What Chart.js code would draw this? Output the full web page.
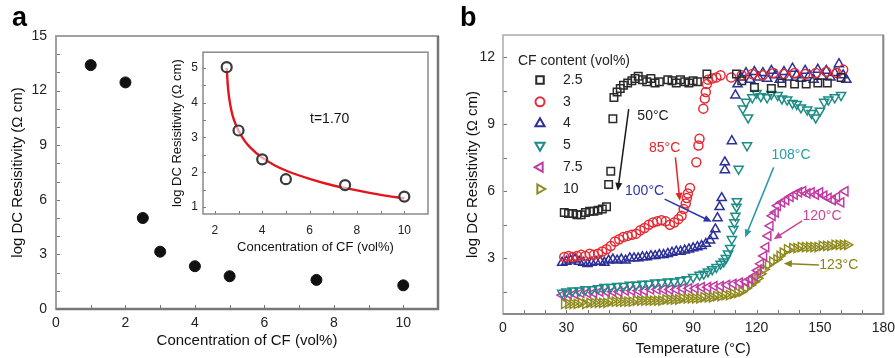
<!DOCTYPE html>
<html>
<head>
<meta charset="utf-8">
<script src="https://cdn.jsdelivr.net/npm/chart.js@4.4.1/dist/chart.umd.min.js"></script>
<style>
html, body { margin: 0; padding: 0; background: #fff; }
#wrap { position: relative; width: 895px; height: 358px; overflow: hidden; font-family: "Liberation Sans", Arial, sans-serif; }
canvas { position: absolute; }
#cA { left: 0; top: 0; }
#cIn { left: 160px; top: 40px; }
#cB { left: 455px; top: 0; }
.lab { position: absolute; font-weight: bold; font-size: 27px; line-height: 1; color: #000; }
</style>
</head>
<body>
<div id="wrap">
  <canvas id="cA" width="450" height="358"></canvas>
  <canvas id="cIn" width="280" height="225"></canvas>
  <canvas id="cB" width="446" height="358"></canvas>
  <div class="lab" style="left:12px;top:4px">a</div>
  <div class="lab" style="left:460px;top:4px">b</div>
</div>
<script>
// panel a : resistivity vs CF content
const concA = [1, 2, 2.5, 3, 4, 5, 7.5, 10];
const logRhoA = [13.4, 12.45, 5.0, 3.15, 2.35, 1.8, 1.6, 1.3];

// inset : measured points and percolation fit (t = 1.70)
const concIn = [2.5, 3, 4, 5, 7.5, 10];
const logRhoIn = [5.02, 3.2, 2.37, 1.8, 1.63, 1.3];
const fitX = [2.5, 2.55, 2.6, 2.7, 2.8, 3, 3.25, 3.5, 4, 4.5, 5, 6, 7, 8, 9, 10];
const fitY = [5.0, 4.47, 4.16, 3.77, 3.52, 3.19, 2.91, 2.71, 2.42, 2.21, 2.05, 1.81, 1.62, 1.48, 1.35, 1.25];
const insetXTicks = [2, 3, 4, 5, 6, 7, 8, 9, 10];
const insetYTicks = [1, 1.5, 2, 2.5, 3, 3.5, 4, 4.5, 5];

// panel b : resistivity vs temperature, one pair of arrays per CF content
const temp25 = [29,31,33,35,37,39,41,43,45,47,49,50,51,52,52.5,54,55.5,57,59,61,62.5,64,66,68,70,72,74,78,80,82,84,86,88,90,92,96.5,110.5,113,119,127,132,138,143.5,149,153.5,160];
const rho25 = [5.05,5.0,5.0,4.95,4.95,5.05,5.1,5.1,5.15,5.2,5.3,6.3,6.9,9.25,10.2,10.45,10.6,10.75,10.85,10.95,11.05,11.15,11.0,10.9,11.05,10.85,10.9,11.0,10.95,10.85,11.0,10.9,10.85,10.95,10.9,11.25,11.25,10.95,10.65,10.6,10.85,10.8,10.8,10.85,10.85,11.1];

const temp3 = [29,31,33,35,37,39,41,43,45,47,49,51,53,55,57,59,61,63,65,67,69,71,73,75,77,79,81,83,84.5,85.5,86.5,87,87.5,88.5,91.5,92.5,93,94.8,95.5,96,96.5,97,99,101,103,108,113,118,123,128,133,138,143,148,153,158,161];
const rho3 = [3.05,3.1,3.05,3.1,3.15,3.1,3.2,3.15,3.2,3.3,3.4,3.55,3.75,3.85,3.95,4.0,4.05,4.1,4.25,4.35,4.5,4.6,4.65,4.7,4.65,4.5,4.6,4.75,4.9,5.2,5.45,5.7,5.9,6.15,7.3,8.05,8.35,9.7,10.15,10.45,10.8,11.0,11.05,11.1,11.2,11.1,11.2,11.25,11.2,11.3,11.25,11.3,11.25,11.3,11.35,11.3,11.45];

const temp4 = [28,30,32,34,36,38,40,42,44,46,48,50,52,54,56,58,60,62,64,66,68,70,72,74,76,78,80,82,84,86,88,90,92,94,96,98,99.5,100.5,101.5,102.5,103.5,105,105,108.3,110,111,112.5,115,117,119,121,123,125,127,129,131,133,135,137,139,141,143,145,147,149,151,153,155,157,159,161,162.5];
const rho4 = [2.8,2.85,2.9,2.95,2.85,2.8,2.75,2.8,2.85,2.85,2.8,2.9,2.95,2.9,2.95,2.9,3.0,3.0,3.0,3.05,3.05,3.1,3.1,3.15,3.15,3.2,3.25,3.3,3.3,3.35,3.4,3.45,3.5,3.55,3.65,3.8,4.0,4.3,4.8,5.3,5.7,6.95,7.3,8.25,10.3,10.8,11.1,11.3,11.0,11.35,11.1,11.3,11.05,11.4,11.2,11.0,11.35,11.1,11.5,11.2,11.05,11.4,11.2,11.0,11.45,11.15,11.4,11.1,11.3,11.7,11.2,11.0];

const temp5 = [28,30,33,36,39,42,45,48,51,54,57,60,63,66,69,72,75,78,81,84,87,90,93,95,97,99,101,103,104.5,105.5,106.5,107.5,108.3,109,109.5,110,110.5,110.7,111.5,115.5,113.5,115,116,118,120,122,125,127,130,132,134.5,137,139,141,144,146,148,150,152,154,157,160];
const rho5 = [1.45,1.5,1.55,1.55,1.6,1.6,1.65,1.7,1.7,1.75,1.75,1.8,1.8,1.85,1.85,1.9,1.9,1.95,1.95,2.0,2.05,2.15,2.25,2.3,2.4,2.5,2.6,2.75,2.85,3.0,3.2,3.45,3.85,4.3,4.6,4.9,5.3,5.55,7.0,8.05,9.7,10.0,9.3,10.2,10.4,10.25,10.2,10.35,10.3,10.15,10.1,9.95,9.9,9.75,9.65,9.5,9.3,9.6,10.0,10.1,10.2,10.3];

const temp75 = [28,31,34,37,40,43,46,49,52,55,58,61,64,67,70,73,76,79,82,85,88,91,94,97,100,103,106,109,112,115,117,119,120.5,122,123.5,124.5,125.5,126.5,127.5,129,130,132,134,136,138,140,142,144,146,148,150,152,154,156,158,160,162];
const rho75 = [1.35,1.4,1.4,1.45,1.45,1.45,1.5,1.5,1.5,1.5,1.55,1.55,1.55,1.55,1.6,1.6,1.6,1.6,1.6,1.65,1.65,1.65,1.7,1.7,1.75,1.75,1.8,1.85,1.9,1.95,2.05,2.2,2.45,2.75,3.1,3.5,4.0,4.45,4.9,5.05,5.35,5.5,5.6,5.75,5.85,5.95,6.0,5.9,5.95,5.85,5.95,5.8,5.7,5.6,5.75,5.5,6.0];

const temp10 = [29,31,33,35,37,39,41,43,45,47,49,51,53,55,57,59,61,63,65,67,69,71,73,75,77,79,81,83,85,87,89,91,93,95,97,99,101,103,105,107,109,111,113,115,117,119,120.5,122,123.5,125.5,127.5,129.5,131,132.5,134.5,137,139,141,143,145,147,149,151,153,155,157,159,161,163];
const rho10 = [0.95,0.95,0.95,0.95,1.0,0.95,1.0,1.0,1.0,1.0,1.0,1.05,1.05,1.05,1.05,1.05,1.05,1.1,1.1,1.1,1.1,1.1,1.1,1.1,1.15,1.15,1.15,1.15,1.2,1.2,1.2,1.2,1.2,1.25,1.25,1.25,1.3,1.3,1.35,1.35,1.4,1.45,1.5,1.65,1.8,1.95,2.1,2.3,2.5,2.7,2.85,2.95,3.1,3.25,3.4,3.45,3.45,3.5,3.5,3.5,3.5,3.5,3.55,3.55,3.55,3.6,3.6,3.6,3.6];

const FONT = '"Liberation Sans", Arial, sans-serif';
Chart.defaults.font.family = FONT;
Chart.defaults.color = '#222';

const pts = (xs, ys) => xs.map((x, i) => ({ x: x, y: ys[i] }));

// box round the plot area, with small inward tick marks on x and y
const framePlugin = {
  id: 'frame',
  afterDatasetsDraw(chart, args, o) {
    const a = chart.chartArea, c = chart.ctx;
    c.save();
    c.strokeStyle = o.tickColor || '#666';
    c.lineWidth = 1;
    const L = o.tick || 4;
    chart.scales.x.ticks.forEach(t => {
      const p = Math.round(chart.scales.x.getPixelForValue(t.value)) + 0.5;
      if (p <= a.left + 2 || p >= a.right - 2) return;
      c.beginPath(); c.moveTo(p, a.bottom); c.lineTo(p, a.bottom - L); c.stroke();
    });
    chart.scales.y.ticks.forEach(t => {
      const p = Math.round(chart.scales.y.getPixelForValue(t.value)) + 0.5;
      if (p <= a.top + 2 || p >= a.bottom - 2) return;
      c.beginPath(); c.moveTo(a.left, p); c.lineTo(a.left + L, p); c.stroke();
    });
    c.strokeStyle = o.color;
    c.lineWidth = o.width;
    c.strokeRect(a.left, a.top, a.right - a.left, a.bottom - a.top);
    if (o.edge) {
      c.strokeStyle = o.edge;
      c.lineWidth = o.edgeWidth;
      c.beginPath();
      c.moveTo(a.right, a.top);
      c.lineTo(a.right, a.bottom);
      c.lineTo(a.left, a.bottom);
      c.stroke();
    }
    c.restore();
  }
};

// text labels and arrows placed in data units
const notePlugin = {
  id: 'notes',
  afterDatasetsDraw(chart, args, o) {
    const c = chart.ctx, sx = chart.scales.x, sy = chart.scales.y;
    (o.items || []).forEach(n => {
      c.save();
      c.fillStyle = n.color;
      c.strokeStyle = n.color;
      c.font = (n.size || 14) + 'px ' + FONT;
      c.textAlign = 'center';
      c.textBaseline = 'middle';
      c.fillText(n.text, sx.getPixelForValue(n.at[0]), sy.getPixelForValue(n.at[1]));
      if (n.from) {
        const x1 = sx.getPixelForValue(n.from[0]), y1 = sy.getPixelForValue(n.from[1]);
        const x2 = sx.getPixelForValue(n.to[0]), y2 = sy.getPixelForValue(n.to[1]);
        const ang = Math.atan2(y2 - y1, x2 - x1);
        c.lineWidth = 1.5;
        c.beginPath();
        c.moveTo(x1, y1);
        c.lineTo(x2 - 6 * Math.cos(ang), y2 - 6 * Math.sin(ang));
        c.stroke();
        c.beginPath();
        c.moveTo(x2, y2);
        c.lineTo(x2 - 8 * Math.cos(ang) + 3.5 * Math.sin(ang), y2 - 8 * Math.sin(ang) - 3.5 * Math.cos(ang));
        c.lineTo(x2 - 8 * Math.cos(ang) - 3.5 * Math.sin(ang), y2 - 8 * Math.sin(ang) + 3.5 * Math.cos(ang));
        c.closePath();
        c.fill();
      }
      c.restore();
    });
  }
};

// legend inside the plot, top left
const cfLegend = {
  id: 'cfLegend',
  afterDraw(chart, args, o) {
    const c = chart.ctx, a = chart.chartArea;
    c.save();
    c.font = '14px ' + FONT;
    c.textBaseline = 'middle';
    c.textAlign = 'left';
    c.fillStyle = '#222';
    c.fillText(o.title, a.left + o.titleX, a.top + o.titleY);
    chart.data.datasets.forEach((ds, i) => {
      const y = a.top + o.rowY + i * o.rowGap;
      c.strokeStyle = ds.borderColor;
      c.fillStyle = 'rgba(0,0,0,0)';
      c.lineWidth = 2;
      Chart.helpers.drawPoint(c, { pointStyle: ds.pointStyle, rotation: ds.pointRotation || 0, radius: ds.pointRadius, borderWidth: 2 }, a.left + o.markX, y);
      c.fillStyle = '#222';
      c.fillText(ds.label, a.left + o.textX, y);
    });
    c.restore();
  }
};

function axis(o) {
  return {
    type: 'linear',
    min: o.min,
    max: o.max,
    afterFit: s => { s[o.dim] = o.size; },
    afterBuildTicks: o.ticks ? (s => { s.ticks = o.ticks.map(v => ({ value: v })); }) : undefined,
    ticks: { stepSize: o.step, autoSkip: false, maxRotation: 0, padding: o.pad, color: '#222', font: { size: o.fs }, callback: o.label },
    grid: { display: false, drawTicks: false },
    border: { display: false },
    title: { display: true, text: o.title, color: '#111', font: { size: o.ts }, padding: o.tp }
  };
}

const every = k => v => (Math.abs(v / k - Math.round(v / k)) < 1e-6 ? Math.round(v * 100) / 100 : '');

// ---- panel a
new Chart(document.getElementById('cA'), {
  type: 'scatter',
  data: {
    datasets: [{
      data: pts(concA, logRhoA),
      pointRadius: 5.5,
      pointStyle: 'circle',
      backgroundColor: '#111',
      borderColor: '#111'
    }]
  },
  options: {
    responsive: false,
    animation: false,
    devicePixelRatio: 1,
    layout: { padding: { top: 36, right: 12, left: 0, bottom: 0 } },
    plugins: { legend: { display: false }, tooltip: { enabled: false },
      frame: { color: '#a0a0a0', width: 2, edge: '#777', edgeWidth: 2.5, tick: 4, tickColor: '#777' } },
    scales: {
      x: axis({ dim: 'height', size: 49, min: 0, max: 11, step: 1, pad: 6, fs: 14,
        label: v => (v % 2 === 0 && v <= 10 ? v : ''), title: 'Concentration of CF (vol%)', ts: 15, tp: { bottom: 8 } }),
      y: axis({ dim: 'width', size: 56, min: 0, max: 15, step: 1, pad: 9, fs: 14,
        label: v => (v % 3 === 0 ? v : ''), title: 'log DC Resisitivity (\u03a9 cm)', ts: 15, tp: { top: 9 } })
    }
  },
  plugins: [framePlugin]
});

// ---- inset of panel a
new Chart(document.getElementById('cIn'), {
  type: 'scatter',
  data: {
    datasets: [{
      data: pts(concIn, logRhoIn),
      pointRadius: 5,
      pointStyle: 'circle',
      pointBorderWidth: 2.2,
      backgroundColor: 'rgba(255,255,255,0.6)',
      borderColor: '#3a3a3a'
    }, {
      data: pts(fitX, fitY),
      showLine: true,
      pointRadius: 0,
      borderColor: '#e3141c',
      borderWidth: 2.4,
      cubicInterpolationMode: 'monotone'
    }]
  },
  options: {
    responsive: false,
    animation: false,
    devicePixelRatio: 1,
    layout: { padding: { top: 4, right: 12, left: 0, bottom: 0 } },
    plugins: { legend: { display: false }, tooltip: { enabled: false },
      frame: { color: '#8a8a8a', width: 1.5, tick: 3, tickColor: '#777' },
      notes: { items: [{ text: 't=1.70', at: [6.85, 3.53], color: '#111', size: 14 }] } },
    scales: {
      x: axis({ dim: 'height', size: 51, min: 1.5, max: 11, ticks: insetXTicks, pad: 9, fs: 12,
        label: v => (v % 2 === 0 ? v : ''), title: 'Concentration of CF (vol%)', ts: 13, tp: { bottom: 10 } }),
      y: axis({ dim: 'width', size: 43, min: 0.8, max: 5.45, ticks: insetYTicks, pad: 5, fs: 12,
        label: v => (Number.isInteger(v) ? v : ''), title: 'log DC Resisitivity (\u03a9 cm)', ts: 13, tp: { top: 10 } })
    }
  },
  plugins: [framePlugin, notePlugin]
});

// ---- panel b
const series = [
  { label: '2.5', t: temp25, r: rho25, color: '#2a2a2a', style: 'rect', rot: 0, rad: 5.3 },
  { label: '3', t: temp3, r: rho3, color: '#e52b34', style: 'circle', rot: 0, rad: 4.5 },
  { label: '4', t: temp4, r: rho4, color: '#2c2f97', style: 'triangle', rot: 0, rad: 5.3 },
  { label: '5', t: temp5, r: rho5, color: '#1b8c86', style: 'triangle', rot: 180, rad: 5.3 },
  { label: '7.5', t: temp75, r: rho75, color: '#c23aa3', style: 'triangle', rot: -90, rad: 5.3 },
  { label: '10', t: temp10, r: rho10, color: '#8f8a1e', style: 'triangle', rot: 90, rad: 5.3 }
];

new Chart(document.getElementById('cB'), {
  type: 'scatter',
  data: {
    datasets: series.map(s => ({
      label: s.label,
      data: pts(s.t, s.r),
      pointStyle: s.style,
      pointRotation: s.rot,
      pointRadius: s.rad,
      pointBorderWidth: 1.5,
      borderWidth: 1.5,
      borderColor: s.color,
      backgroundColor: 'rgba(0,0,0,0)'
    }))
  },
  options: {
    responsive: false,
    animation: false,
    devicePixelRatio: 1,
    layout: { padding: { top: 35, right: 6, left: 0, bottom: 0 } },
    plugins: { legend: { display: false }, tooltip: { enabled: false },
      frame: { color: '#ababab', width: 1.5, edge: '#8a8a8a', edgeWidth: 2, tick: 4, tickColor: '#777' },
      cfLegend: { title: 'CF content (vol%)', titleX: 15, titleY: 26, markX: 37, textX: 60, rowY: 45, rowGap: 21.8 },
      notes: { items: [
        { text: '50\u00b0C', at: [71, 9.37], color: '#1a1a1a', from: [59.5, 9.68], to: [54.3, 6.02] },
        { text: '85\u00b0C', at: [76.5, 7.93], color: '#e3242b', from: [81.6, 7.52], to: [83.7, 5.57] },
        { text: '100\u00b0C', at: [67, 6.0], color: '#2d34a8', from: [76.5, 5.65], to: [98.8, 4.63] },
        { text: '108\u00b0C', at: [136.3, 7.62], color: '#2b9aa6', from: [128.1, 7.07], to: [114.6, 3.93] },
        { text: '120\u00b0C', at: [151, 4.88], color: '#c8449f', from: [141.6, 4.67], to: [128.1, 3.85] },
        { text: '123\u00b0C', at: [158.9, 2.69], color: '#8c8318', from: [149.5, 2.7], to: [132.9, 2.76] }
      ] } },
    scales: {
      x: axis({ dim: 'height', size: 44, min: 0, max: 180, step: 10, pad: 6, fs: 14,
        label: every(30), title: 'Temperature (\u00b0C)', ts: 15, tp: { bottom: 0 } }),
      y: axis({ dim: 'width', size: 48, min: 0.5, max: 13, step: 1.5, pad: 8, fs: 14,
        label: every(3), title: 'log DC Resistivity (\u03a9 cm)', ts: 15, tp: { top: 9 } })
    }
  },
  plugins: [framePlugin, notePlugin, cfLegend]
});
</script>
</body>
</html>
